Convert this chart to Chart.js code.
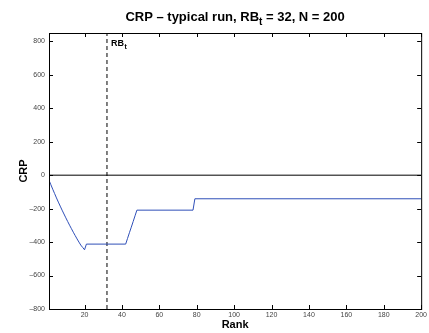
<!DOCTYPE html>
<html>
<head>
<meta charset="utf-8">
<script src="https://cdn.jsdelivr.net/npm/chart.js@4"></script>
<style>
  html, body { margin: 0; padding: 0; background: #fff; }
</style>
</head>
<body>
<canvas id="crpChart" width="429" height="333"></canvas>
<script>
// Ranks and CRP values at the breakpoints of the curve
const ranks = [1, 2, 3, 4, 5, 6, 7, 8, 9, 10, 11, 12, 13, 14, 15, 16, 17, 18, 19, 20, 21, 42, 43, 44, 45, 46, 47, 48, 78, 79, 200]
const crp = [-30, -57, -84, -110, -136, -161, -185, -209, -232, -255, -277, -299, -320, -341, -361, -381, -400, -418, -432, -446, -412, -412, -378, -344, -311, -277, -243, -209, -209, -141, -141]
const xTicks = [20, 40, 60, 80, 100, 120, 140, 160, 180, 200]
const yTicks = [-800, -600, -400, -200, 0, 200, 400, 600, 800]
const rbT = 32
const xRange = [1, 200]
const yRange = [-800, 850]

const fontFam = '"Liberation Sans", Arial, Helvetica, sans-serif'

// Draws the MATLAB-like box, inward ticks, title and axis labels
const matlabFrame = {
    id: 'matlabFrame',
    afterDraw(chart) {
        const ctx = chart.ctx
        const a = chart.chartArea
        const xs = chart.scales.x
        const ys = chart.scales.y
        const tl = 4

        ctx.save()
        ctx.strokeStyle = '#000'
        ctx.lineWidth = 1
        ctx.strokeRect(a.left + 0.5, a.top + 0.5, a.right - a.left, a.bottom - a.top)

        ctx.beginPath()
        for (const v of xTicks) {
            const px = Math.round(xs.getPixelForValue(v)) + 0.5
            ctx.moveTo(px, a.bottom); ctx.lineTo(px, a.bottom - tl)
            ctx.moveTo(px, a.top); ctx.lineTo(px, a.top + tl)
        }
        for (const v of yTicks) {
            const py = Math.round(ys.getPixelForValue(v)) + 0.5
            ctx.moveTo(a.left, py); ctx.lineTo(a.left + tl, py)
            ctx.moveTo(a.right, py); ctx.lineTo(a.right - tl, py)
        }
        ctx.stroke()

        ctx.fillStyle = '#000'
        // title with subscript
        const big = 'bold 13px ' + fontFam
        const small = 'bold 10px ' + fontFam
        const p1 = 'CRP \u2013 typical run, RB', p2 = 't', p3 = ' = 32, N = 200'
        ctx.font = big
        const w1 = ctx.measureText(p1).width, w3 = ctx.measureText(p3).width
        ctx.font = small
        const w2 = ctx.measureText(p2).width
        let tx = (a.left + a.right) / 2 - (w1 + w2 + w3) / 2
        ctx.textAlign = 'left'
        ctx.textBaseline = 'alphabetic'
        ctx.font = big
        ctx.fillText(p1, tx, 20.5)
        tx += w1
        ctx.font = small
        ctx.fillText(p2, tx, 25)
        tx += w2
        ctx.font = big
        ctx.fillText(p3, tx, 20.5)

        // RB_t marker label
        const lx = xs.getPixelForValue(rbT) + 4
        ctx.font = 'bold 9px ' + fontFam
        ctx.fillText('RB', lx, 46)
        const wr = ctx.measureText('RB').width
        ctx.font = 'bold 7px ' + fontFam
        ctx.fillText('t', lx + wr + 0.5, 49)

        // axis titles
        ctx.font = 'bold 11px ' + fontFam
        ctx.textAlign = 'center'
        ctx.fillText('Rank', (a.left + a.right) / 2, 328)
        ctx.translate(27, (a.top + a.bottom) / 2)
        ctx.rotate(-Math.PI / 2)
        ctx.fillText('CRP', 0, 0)
        ctx.restore()
    }
}

const tickFont = { family: fontFam, size: 7 }

new Chart(document.getElementById('crpChart'), {
    type: 'line',
    data: {
        datasets: [
            {
                label: 'CRP',
                data: ranks.map((r, i) => ({ x: r, y: crp[i] })),
                borderColor: '#2f4fb8',
                borderWidth: 1,
                pointRadius: 0,
                tension: 0
            },
            {
                label: 'zero',
                data: [{ x: xRange[0], y: 0 }, { x: xRange[1], y: 0 }],
                borderColor: '#000',
                borderWidth: 1,
                pointRadius: 0
            },
            {
                label: 'RBt',
                data: [{ x: rbT, y: yRange[0] }, { x: rbT, y: yRange[1] }],
                borderColor: '#000',
                borderWidth: 1,
                borderDash: [4, 3],
                pointRadius: 0
            }
        ]
    },
    options: {
        responsive: false,
        animation: false,
        layout: { padding: { top: 33, right: 4, left: 0, bottom: 0 } },
        plugins: {
            legend: { display: false },
            tooltip: { enabled: false },
            title: { display: false }
        },
        scales: {
            x: {
                type: 'linear',
                min: xRange[0],
                max: xRange[1],
                afterBuildTicks: s => { s.ticks = xTicks.map(v => ({ value: v })) },
                afterFit: s => { s.height = 24 },
                grid: { display: false, drawTicks: false },
                border: { display: false },
                ticks: { font: tickFont, color: '#444', padding: 2, maxRotation: 0, autoSkip: false }
            },
            y: {
                type: 'linear',
                min: yRange[0],
                max: yRange[1],
                afterBuildTicks: s => { s.ticks = yTicks.map(v => ({ value: v })) },
                afterFit: s => { s.width = 49 },
                grid: { display: false, drawTicks: false },
                border: { display: false },
                ticks: {
                    font: tickFont,
                    color: '#444',
                    padding: 4,
                    callback: v => String(v).replace('-', '\u2013')
                }
            }
        }
    },
    plugins: [matlabFrame]
})
</script>
</body>
</html>
